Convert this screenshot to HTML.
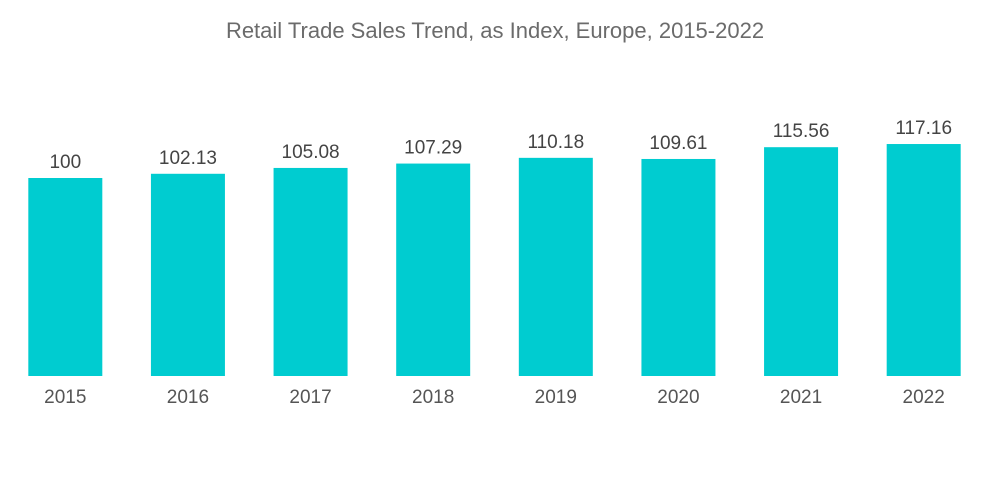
<!DOCTYPE html>
<html><head><meta charset="utf-8"><style>
html,body{margin:0;padding:0;background:#fff;width:1000px;height:504px;overflow:hidden}
svg{display:block}
</style></head><body>
<svg id="chart" width="1000" height="504" xmlns="http://www.w3.org/2000/svg">
<text x="495" y="38" text-anchor="middle" font-family="Liberation Sans, sans-serif" font-size="22" fill="#6b6b6b">Retail Trade Sales Trend, as Index, Europe, 2015-2022</text>
<g id="bars"></g>
</svg>
<script>
const categories = ["2015","2016","2017","2018","2019","2020","2021","2022"];
const values = [100, 102.13, 105.08, 107.29, 110.18, 109.61, 115.56, 117.16];
const valueLabels = ["100","102.13","105.08","107.29","110.18","109.61","115.56","117.16"];

const plotLeft = 4, plotRight = 985, baseY = 376, pxPerUnit = 1.98, barW = 74;
const step = (plotRight - plotLeft) / categories.length;
function xCenter(i){ return plotLeft + step * (i + 0.5); }
function yScale(v){ return baseY - v * pxPerUnit; }

const NS = "http://www.w3.org/2000/svg";
const g = document.getElementById("bars");
categories.forEach((c, i) => {
  const cx = xCenter(i), top = yScale(values[i]);
  const r = document.createElementNS(NS, "rect");
  
  
  r.setAttribute("x", cx - barW / 2);
  r.setAttribute("y", top);
  r.setAttribute("width", barW);
  r.setAttribute("height", baseY - top);
  r.setAttribute("fill", "#00ccd0");
  g.appendChild(r);

  const t = document.createElementNS(NS, "text");
  
  
  t.setAttribute("x", cx);
  t.setAttribute("y", top - 10);
  t.setAttribute("text-anchor", "middle");
  t.setAttribute("font-family", "Liberation Sans, sans-serif");
  t.setAttribute("font-size", "19");
  t.setAttribute("fill", "#444");
  t.textContent = valueLabels[i];
  g.appendChild(t);

  const xl = document.createElementNS(NS, "text");
  
  
  xl.setAttribute("x", cx);
  xl.setAttribute("y", 403);
  xl.setAttribute("text-anchor", "middle");
  xl.setAttribute("font-family", "Liberation Sans, sans-serif");
  xl.setAttribute("font-size", "19");
  xl.setAttribute("fill", "#555");
  xl.textContent = c;
  g.appendChild(xl);
});
</script>
</body></html>
